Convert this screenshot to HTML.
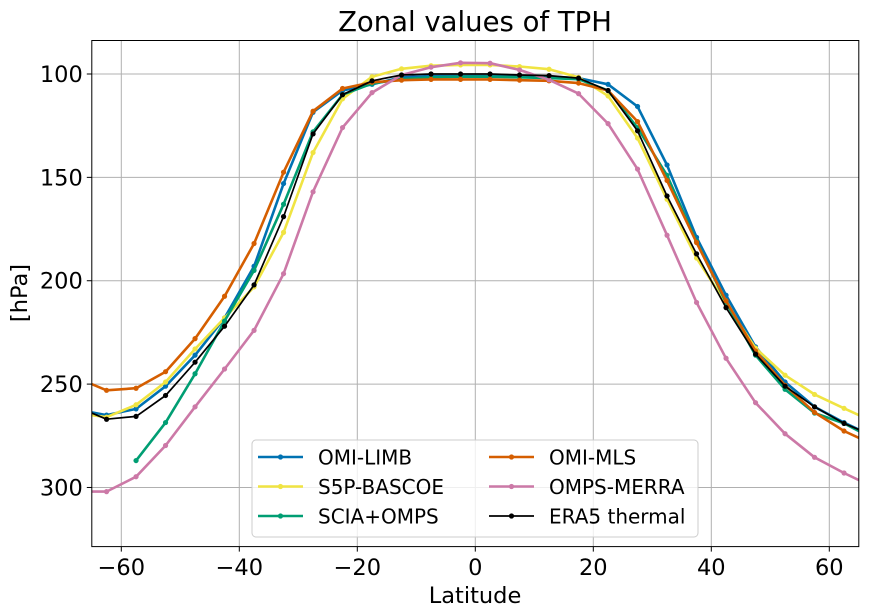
<!DOCTYPE html>
<html><head><meta charset="utf-8"><style>
body{margin:0;background:#fff;}
svg{display:block;font-family:"DejaVu Sans","Liberation Sans",sans-serif;}
</style></head><body>
<svg id="chart" width="869" height="613">
<defs><clipPath id="clip"><rect x="91.8" y="40.5" width="767" height="506.1"/></clipPath></defs>
<text x="475" y="31" font-size="27.5" text-anchor="middle" fill="#000">Zonal values of TPH</text>
<g id="grid"></g>
<g id="series" clip-path="url(#clip)"></g>
<rect x="91.8" y="40.5" width="767" height="506.1" fill="none" stroke="#000" stroke-width="1"/>
<g id="ticks"></g>
<text x="475" y="603" font-size="22.5" text-anchor="middle">Latitude</text>
<text transform="translate(27,293) rotate(-90)" font-size="22.5" text-anchor="middle">[hPa]</text>
<g id="legend"></g>
</svg>
<script>
const lats = [-67.5,-62.5,-57.5,-52.5,-47.5,-42.5,-37.5,-32.5,-27.5,-22.5,-17.5,-12.5,-7.5,-2.5,2.5,7.5,12.5,17.5,22.5,27.5,32.5,37.5,42.5,47.5,52.5,57.5,62.5,67.5];
const omiLimb = [262.4,265,262,251,236,218,193,153,118.5,108,105,101.6,101,101,101,101.2,101.4,102,105,115.7,144,179,207,232,249,261,268.6,275.4];
const s5pBascoe = [264,266,260,249,233,218,203,176.6,138,112,101.3,97.5,96,95.6,95.6,96.4,97.7,101.6,110.6,131,160.6,189,211,232.6,245.7,255,261.7,268.3];
const sciaOmps = [null,null,287,268.6,245,219.5,195,163,128,110,104.6,102.5,101.6,101.3,101.3,101.6,102,102.5,108,126,149,181,210.5,236,252.5,264,269,276.4];
const omiMls = [247,253,252,244,228,207.5,182,147.5,118,107,104,103,102.6,102.6,102.6,103,103.3,104.4,108,123,151.5,181.5,209.7,234,250.6,263.7,272.7,279.3];
const ompsMerra = [302,302,294.8,279.7,261,242.7,224,196.6,157,125.9,109,100.5,96.7,94.6,94.8,98,102.8,109.5,124,146,178,210.5,237.5,259,274,285.4,293,299.8];
const era5 = [261,267,265.6,255.5,239.4,222,202,169,129,110,103.3,100.5,100,100,100,100.5,100.8,102,108,127.5,159,187,213,235.5,251,261,269,275];
const xTicks = [-60,-40,-20,0,20,40,60];
const yTicks = [100,150,200,250,300];
const seriesNames = ["OMI-LIMB","S5P-BASCOE","SCIA+OMPS","OMI-MLS","OMPS-MERRA","ERA5 thermal"];
const seriesData = [omiLimb,s5pBascoe,sciaOmps,omiMls,ompsMerra,era5];
const colors = ["#0072B2","#F0E442","#009E73","#D55E00","#CC79A7","#000000"];
const widths = [2.6,2.6,2.6,2.6,2.6,1.7];

const X0=91.8,X1=858.8,Y0=40.5,Y1=546.6;
const xMin=-65,xMax=65,yMin=83.8,yMax=328.6;
function sx(v){return X0+(v-xMin)/(xMax-xMin)*(X1-X0);}
function sy(v){return Y0+(v-yMin)/(yMax-yMin)*(Y1-Y0);}
const NS="http://www.w3.org/2000/svg";
function mk(tag,attrs,parent){const e=document.createElementNS(NS,tag);for(const k in attrs)e.setAttribute(k,attrs[k]);parent.appendChild(e);return e;}
const grid=document.getElementById('grid'),ticks=document.getElementById('ticks'),ser=document.getElementById('series'),leg=document.getElementById('legend');
xTicks.forEach(t=>{
  const g=mk('line',{x1:sx(t),x2:sx(t),y1:Y0,y2:Y1,stroke:'#b0b0b0','stroke-width':1},grid);
  
  
  const tk=mk('line',{x1:sx(t),x2:sx(t),y1:Y1,y2:Y1+5,stroke:'#000','stroke-width':1},ticks);
  
  
  const lb=mk('text',{x:sx(t),y:575,'font-size':22.5,'text-anchor':'middle'},ticks);
  lb.textContent=t<0?'\u2212'+Math.abs(t):String(t);
  
  
});
yTicks.forEach(t=>{
  const g=mk('line',{x1:X0,x2:X1,y1:sy(t),y2:sy(t),stroke:'#b0b0b0','stroke-width':1},grid);
  
  
  const tk=mk('line',{x1:X0-5,x2:X0,y1:sy(t),y2:sy(t),stroke:'#000','stroke-width':1},ticks);
  
  
  const lb=mk('text',{x:X0-9,y:sy(t)+8,'font-size':22.5,'text-anchor':'end'},ticks);
  lb.textContent=String(t);
  
  
});
seriesData.forEach((d,i)=>{
  let segs=[],cur=[];
  d.forEach((v,j)=>{if(v==null){if(cur.length)segs.push(cur);cur=[];}else cur.push(sx(lats[j]).toFixed(1)+','+sy(v).toFixed(1));});
  if(cur.length)segs.push(cur);
  segs.forEach(s=>{
    const pl=mk('polyline',{points:s.join(' '),fill:'none',stroke:colors[i],'stroke-width':widths[i],'stroke-linejoin':'round'},ser);
    
    
  });
  d.forEach((v,j)=>{if(v==null)return;
    const c=mk('circle',{cx:sx(lats[j]),cy:sy(v),r:2.6,fill:colors[i]},ser);
    
    
  });
});
const box=mk('rect',{x:252,y:440,width:446,height:97,rx:4,fill:'#fff','fill-opacity':0.8,stroke:'#cccccc','stroke-width':1},leg);


seriesNames.forEach((n,i)=>{
  const col=i<3?0:1,row=i%3;
  const lx=col?489:258,ly=457+row*29.5;
  const g=mk('g',{},leg);
  
  
  mk('line',{x1:lx,x2:lx+45,y1:ly,y2:ly,stroke:colors[i],'stroke-width':widths[i]},g);
  mk('circle',{cx:lx+22.5,cy:ly,r:2.6,fill:colors[i]},g);
  const t=mk('text',{x:lx+60,y:ly+7.5,'font-size':20},g);
  t.textContent=n;
});
</script>
</body></html>
